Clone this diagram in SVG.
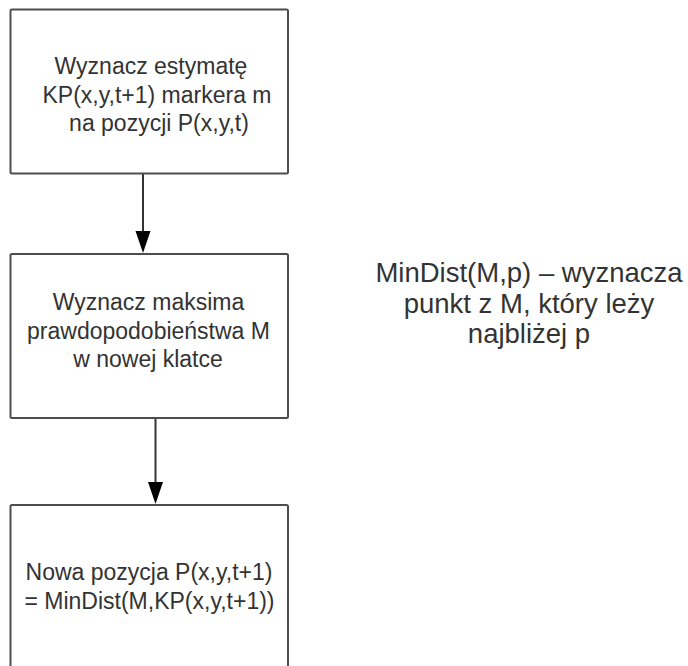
<svg xmlns="http://www.w3.org/2000/svg" width="688" height="666" viewBox="0 0 688 666">
<style>
.box{fill:#ffffff;stroke:#4d4d4d;stroke-width:2}
.t{font-family:"Liberation Sans",Arial,sans-serif;font-size:23px;fill:#333333;text-anchor:middle}
.n{font-family:"Liberation Sans",Arial,sans-serif;font-size:27.5px;fill:#333333;text-anchor:middle}
.c{stroke:#333333;stroke-width:2;fill:none}
</style>
<rect width="688" height="666" fill="#ffffff"/>
<g id="connectors">
<line class="c" x1="143" y1="174" x2="143" y2="231"/>
<path d="M135.5,231 L150.5,231 L143,253 Z" fill="#000"/>
<line class="c" x1="155.5" y1="418" x2="155.5" y2="482"/>
<path d="M148,482 L163,482 L155.5,504 Z" fill="#000"/>
</g>
<g id="node1">
<rect class="box" x="10.5" y="9.5" width="277.5" height="164" rx="1.5"/>
<text class="t" x="151" y="74">Wyznacz estymatę</text>
<text class="t" x="157" y="102.5">KP(x,y,t+1) markera m</text>
<text class="t" x="159" y="131">na pozycji P(x,y,t)</text>
</g>
<g id="node2">
<rect class="box" x="10.5" y="254" width="277.5" height="164" rx="1.5"/>
<text class="t" x="148.5" y="310">Wyznacz maksima</text>
<text class="t" x="148.5" y="338.5">prawdopodobieństwa M</text>
<text class="t" x="148" y="367">w nowej klatce</text>
</g>
<g id="node3">
<rect class="box" x="10.5" y="505" width="277.5" height="175" rx="1.5"/>
<text class="t" x="149" y="580">Nowa pozycja P(x,y,t+1)</text>
<text class="t" x="149.5" y="608.5">= MinDist(M,KP(x,y,t+1))</text>
</g>
<g id="note">
<text class="n" x="529" y="282">MinDist(M,p) – wyznacza</text>
<text class="n" x="529" y="312.5">punkt z M, który leży</text>
<text class="n" x="529" y="343">najbliżej p</text>
</g>
</svg>
